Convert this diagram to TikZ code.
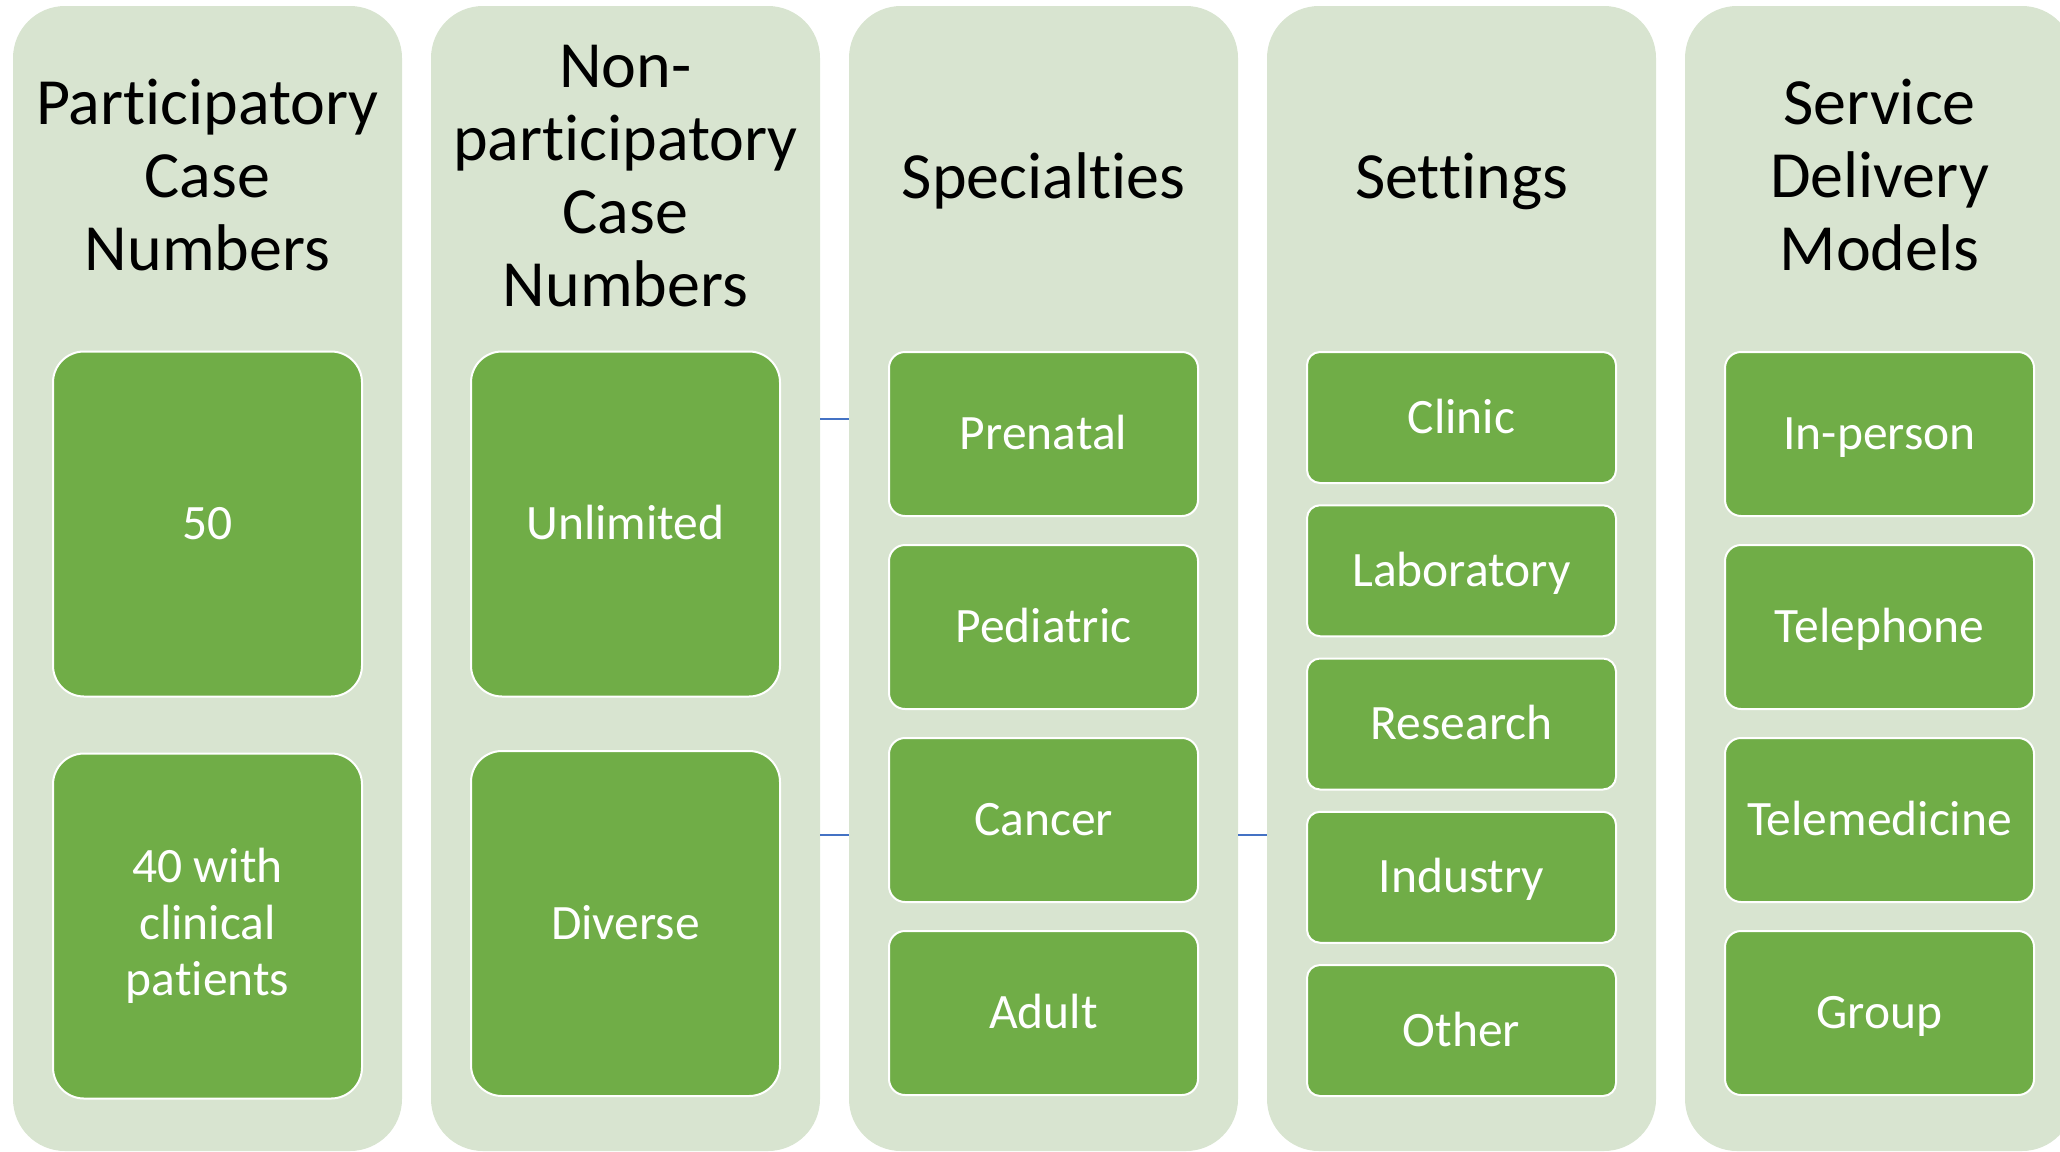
\documentclass[tikz,border=0pt]{standalone}
\usepackage{fontspec}
\setmainfont{Carlito}[Ligatures=CommonOff]
\definecolor{colbg}{RGB}{216,228,208}
\definecolor{boxgreen}{RGB}{112,173,71}
\definecolor{linkblue}{RGB}{68,114,196}

\begin{document}
\begin{tikzpicture}[x=0.5pt,y=-0.5pt]
\tikzset{column/.style={fill=colbg,rounded corners=26pt,inner sep=0pt,minimum width=194.5pt,minimum height=572.5pt},
head/.style={align=center,text width=192pt,font=\fontsize{33}{36.5}\selectfont},
onehead/.style={head,text height=24.75pt,text depth=3.6pt},
item/.style={fill=boxgreen,draw=white,line width=1pt,text=white,align=center,inner sep=0pt,minimum width=154.5pt,font=\fontsize{24.75}{28.25}\selectfont},
oneline/.style={text height=19.9pt,text depth=4.4pt},
bigbox/.style={item,minimum height=172.5pt,rounded corners=15.5pt},
midbox/.style={item,oneline,minimum height=82pt,rounded corners=8pt},
smallbox/.style={item,oneline,minimum height=65.5pt,rounded corners=6.5pt},
link/.style={draw=linkblue,line width=0.75pt}}
\useasboundingbox (0,0) rectangle (2060,1151);

% columns
\node[column] (partic) at (207.5,578.5) {};
\node[column] (nonpart) at (625.5,578.5) {};
\node[column] (spec) at (1043.5,578.5) {};
\node[column] (sett) at (1461.5,578.5) {};
\node[column] (model) at (1879.5,578.5) {};

% connector stubs
\draw[link] (nonpart.east |- 0,419) -- (spec.west |- 0,419);
\draw[link] (nonpart.east |- 0,835) -- (spec.west |- 0,835);
\draw[link] (spec.east |- 0,835) -- (sett.west |- 0,835);

% headings
\node[head] (particHead) at (207.5,175) {Participatory\\Case\\Numbers};
\node[head] (nonpartHead) at (625.5,176) {Non-\\participatory\\Case\\Numbers};
\node[onehead] (specHead) at (1043.5,177) {Specialties};
\node[onehead] (settHead) at (1461.5,177) {Settings};
\node[head] (modelHead) at (1879.5,175) {Service\\Delivery\\Models};

% case numbers
\node[bigbox,oneline] (partic1) at (207.5,524) {50};
\node[bigbox] (partic2) at (207.5,926) {40 with\\clinical\\patients};
\node[bigbox,oneline] (nonpart1) at (625.5,524) {Unlimited};
\node[bigbox,oneline] (nonpart2) at (625.5,923.5) {Diverse};

% lists
\foreach \txt [count=\i] in {Prenatal,Pediatric,Cancer,Adult}
  \node[midbox] (spec\i) at (1043.5,241+193*\i) {\txt};
\foreach \txt [count=\i] in {Clinic,Laboratory,Research,Industry,Other}
  \node[smallbox] (sett\i) at (1461.5,264.25+153.25*\i) {\txt};
\foreach \txt [count=\i] in {In-person,Telephone,Telemedicine,Group}
  \node[midbox] (model\i) at (1879.5,241+193*\i) {\txt};
\end{tikzpicture}
\end{document}
